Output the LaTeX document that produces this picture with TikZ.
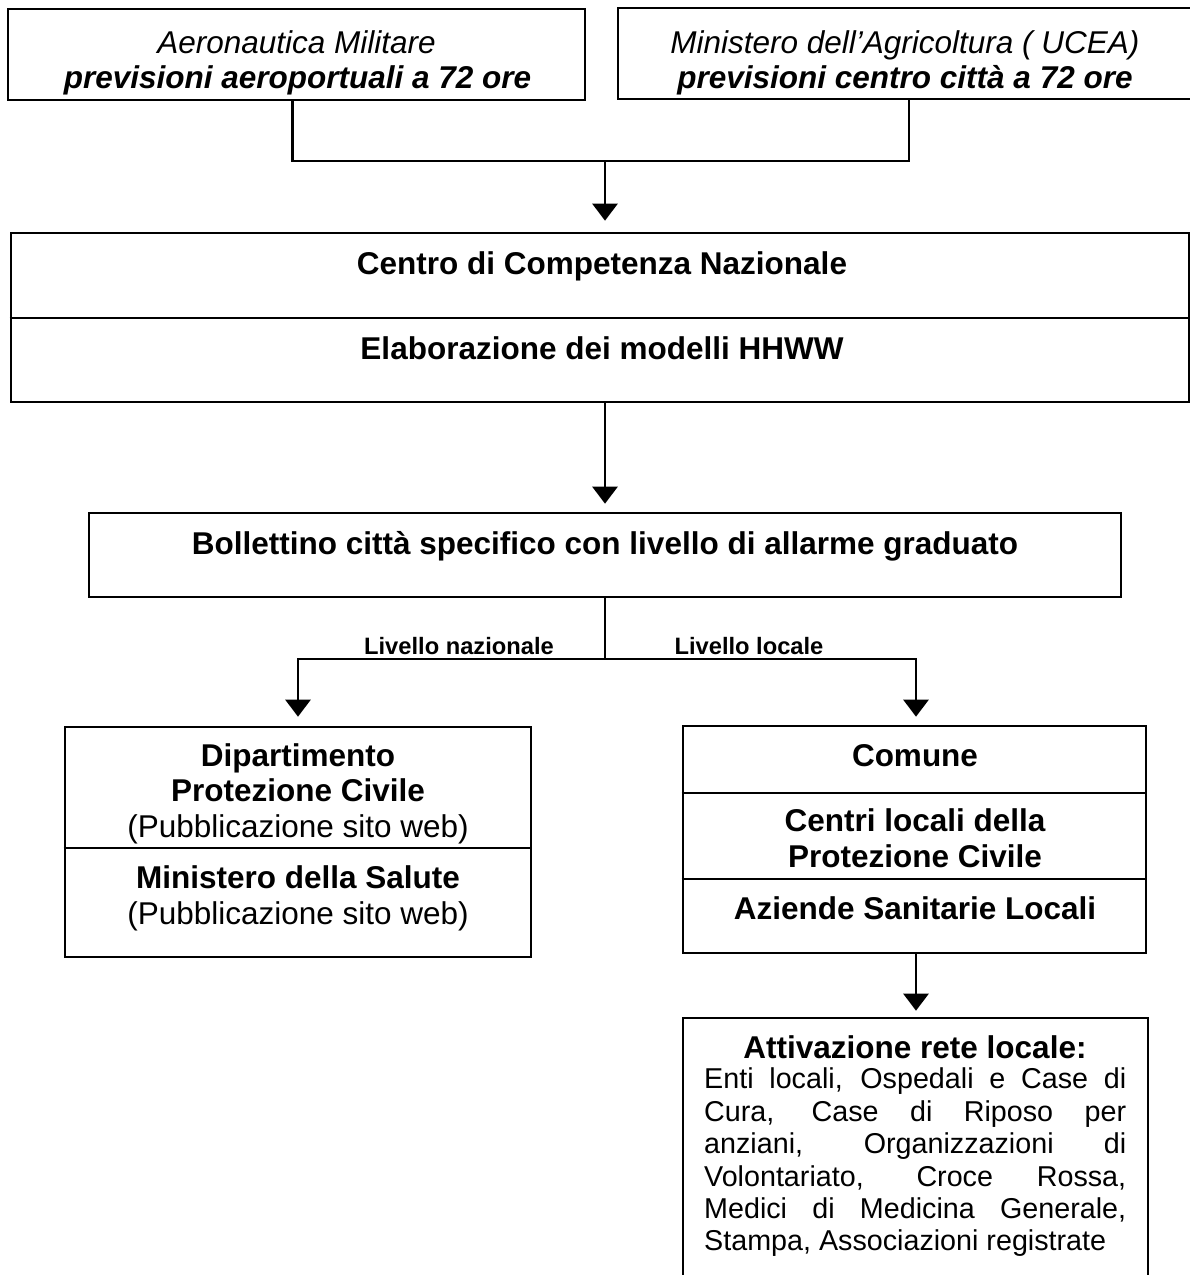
\documentclass[tikz,border=0pt]{standalone}
\usepackage{fontspec}
\setmainfont{Liberation Sans}
\usetikzlibrary{arrows.meta}
\newcommand{\myfs}[1]{\fontsize{#1}{#1}\selectfont}
\begin{document}
\begin{tikzpicture}[x=1pt,y=-1pt,
  box/.style={draw, line width=2.6pt, inner sep=0pt},
  conn/.style={line width=2.6pt},
  arr/.style={conn, -{Triangle[width=25pt,length=17pt]}},
  tb/.style={font=\myfs{31.5}\bfseries, anchor=base, inner sep=0pt},
  tr/.style={font=\myfs{31.5}, anchor=base, inner sep=0pt},
  ti/.style={font=\myfs{31.5}\itshape, anchor=base, inner sep=0pt},
  tbi/.style={font=\myfs{31.5}\bfseries\itshape, anchor=base, inner sep=0pt},
  lab/.style={font=\myfs{23.7}\bfseries, anchor=base, inner sep=0pt},
  body/.style={font=\myfs{28.7}, anchor=base west, inner sep=0pt}
]
\useasboundingbox (0,0) rectangle (1190,1275);

% boxes
\node[box, minimum width=577pt, minimum height=91pt] (A) at (296.5,54.5) {};
\node[box, minimum width=574pt, minimum height=91pt] (B) at (905,53.5) {};
\node[box, minimum width=1178pt, minimum height=169pt] (C) at (600,317.5) {};
\node[box, minimum width=1032pt, minimum height=84pt] (D) at (605,555) {};
\node[box, minimum width=466pt, minimum height=230pt] (E) at (298,842) {};
\node[box, minimum width=463pt, minimum height=227pt] (F) at (914.5,839.5) {};
\node[box, minimum width=465pt, minimum height=272pt] (G) at (915.5,1154) {};

% dividers
\draw[conn] (C.west |- 0,318) -- (C.east |- 0,318);
\draw[conn] (E.west |- 0,848) -- (E.east |- 0,848);
\draw[conn] (F.west |- 0,793) -- (F.east |- 0,793);
\draw[conn] (F.west |- 0,879) -- (F.east |- 0,879);

% texts
\node[ti]  (a1) at (296.5,53) {Aeronautica Militare};
\node[tbi] (a2) at (297.5,88) {previsioni aeroportuali a 72 ore};
\node[ti]  (b1) at (905,53) {Ministero dell'Agricoltura ( UCEA)};
\node[tbi] (b2) at (905,88) {previsioni centro città a 72 ore};
\node[tb]  (c1) at (602,274) {Centro di Competenza Nazionale};
\node[tb]  (c2) at (602,359) {Elaborazione dei modelli HHWW};
\node[tb]  (d1) at (605,554) {Bollettino città specifico con livello di allarme graduato};
\node[lab] (l1) at (459,654.5) {Livello nazionale};
\node[lab] (l2) at (749,654.5) {Livello locale};
\node[tb]  (e1) at (298,766) {Dipartimento};
\node[tb]  (e2) at (298,801) {Protezione Civile};
\node[tr]  (e3) at (298,837) {(Pubblicazione sito web)};
\node[tb]  (e4) at (298,888) {Ministero della Salute};
\node[tr]  (e5) at (298,924) {(Pubblicazione sito web)};
\node[tb]  (f1) at (915,766) {Comune};
\node[tb]  (f2) at (915,831) {Centri locali della};
\node[tb]  (f3) at (915,867) {Protezione Civile};
\node[tb]  (f4) at (915,919) {Aziende Sanitarie Locali};
\node[tb]  (g0) at (915,1058) {Attivazione rete locale:};
\node[body] (g1) at (704,1088) {\makebox[422pt][s]{Enti locali, Ospedali e Case di}};
\node[body] (g2) at (704,1121) {\makebox[422pt][s]{Cura, Case di Riposo per}};
\node[body] (g3) at (704,1153) {\makebox[422pt][s]{anziani, Organizzazioni di}};
\node[body] (g4) at (704,1186) {\makebox[422pt][s]{Volontariato, Croce Rossa,}};
\node[body] (g5) at (704,1218) {\makebox[422pt][s]{Medici di Medicina Generale,}};
\node[body] (g6) at (704,1250) {Stampa, Associazioni registrate};

% connectors
\coordinate (jn) at (605,161);
\coordinate (split) at (605,659);
\coordinate (fx) at (916,0);
\draw[conn] ([xshift=-4pt]A.south) |- (jn) -| ([xshift=4pt]B.south);
\draw[arr, shorten >=11pt] (jn) -- (jn |- C.north);
\draw[arr, shorten >=8pt] (jn |- C.south) -- (jn |- D.north);
\draw[conn] (D.south) -- (split);
\draw[arr, shorten >=9pt] (split) -| (E.north);
\draw[arr, shorten >=8pt] (split) -| (fx |- F.north);
\draw[arr, shorten >=6pt] (fx |- F.south) -- (fx |- G.north);
\end{tikzpicture}
\end{document}
